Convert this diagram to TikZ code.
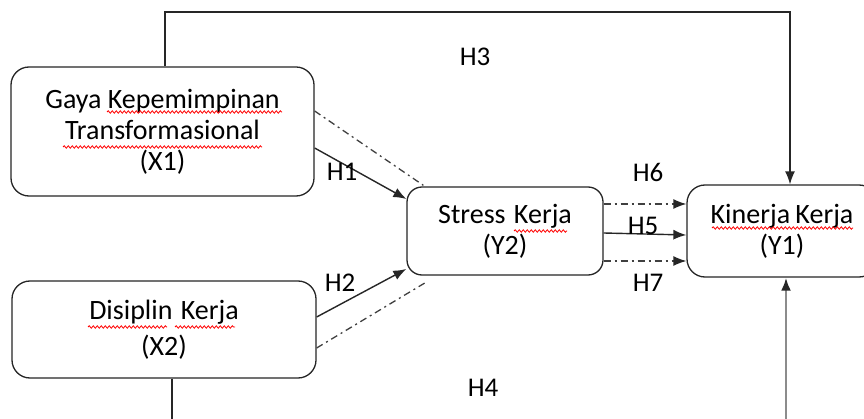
\documentclass[tikz,border=0pt]{standalone}
\usepackage{fontspec}
\setmainfont{Carlito}
\usetikzlibrary{arrows.meta,calc,decorations.pathmorphing}
\tikzset{
  var/.style={draw=black!85,line width=1.3pt,rounded corners=18pt,align=center,
    font=\fontsize{28}{31}\selectfont,text=black,inner sep=0pt},
  lbl/.style={font=\fontsize{27}{31}\selectfont,text=black,inner sep=0pt},
  arr/.style={line width=1.4pt,draw=black!85,-{Latex[length=13pt,width=10pt]}},
  dd/.style={line width=1.3pt,draw=black!75,dash pattern=on 7pt off 4pt on 2pt off 4pt},
  wave/.style={draw=red,line width=0.8pt,decorate,decoration={snake,amplitude=1.2pt,segment length=4pt}},
}
\begin{document}
\begin{tikzpicture}[x=1pt,y=-1pt]
\clip (0,0) rectangle (864,419);
\fill[white] (0,0) rectangle (864,419);
\node[var,minimum width=303pt,minimum height=129pt] (X1) at (162.5,131.5)
  {Gaya Kepemimpinan\\ Transformasional\\ (X1)};
\node[var,minimum width=304pt,minimum height=97pt] (X2) at (164,329.5)
  {Disiplin\kern2pt\ Kerja\\[5pt] (X2)};
\node[var,rounded corners=15pt,minimum width=196pt,minimum height=88pt] (Y2) at (505,231)
  {Stress\kern2pt\ Kerja\\ (Y2)};
\node[var,minimum width=190pt,minimum height=92pt] (Y1) at (782,231)
  {Kinerja\kern-1pt\ Kerja\\ (Y1)};
% spell-check waves
\draw[wave] (107,112) -- (282,112);
\draw[wave] (63,147) -- (262,147);
\draw[wave] (88,327) -- (167,327);
\draw[wave] (175,327) -- (235,327);
\draw[wave] (514,231) -- (567,231);
\draw[wave] (712,228) -- (853,228);
\coordinate (t1) at (165,12);
\coordinate (t2) at (790,12);
\coordinate (b1) at (172,419);
\coordinate (b2) at (786,419);
% H3
\draw[arr] (X1.north -| t1) -- (t1) -- (t2) -- (Y1.north -| t2);
% H4
\draw[line width=1.4pt,draw=black!85] (X2.south -| b1) -- (b1);
\draw[line width=2.6pt,draw=black!45,-{Latex[length=13pt,width=10pt,color=black!85]}] (b2) -- (Y1.south -| b2);
% H1, H2
\draw[arr] ([yshift=-16.5pt]X1.east) -- ([yshift=32pt]Y2.west);
\draw[dd] ([yshift=20.5pt]X1.east) -- ([xshift=17pt,yshift=1pt]Y2.north west);
\draw[arr] ([yshift=12.5pt]X2.east) -- ([yshift=-38pt]Y2.west);
\draw[dd] ([yshift=-18.5pt]X2.east) -- ([xshift=19pt,yshift=-7pt]Y2.south west);
% H5, H6, H7
\draw[dd,-{Latex[length=13pt,width=10pt,color=black!85]}] ([yshift=27pt]Y2.east) -- ([yshift=27pt]Y1.west);
\draw[arr] ([yshift=-2pt]Y2.east) -- ([yshift=-4pt]Y1.west);
\draw[dd,-{Latex[length=13pt,width=10pt,color=black!85]}] ([yshift=-30pt]Y2.east) -- ([yshift=-30pt]Y1.west);
% labels
\node[lbl] (h1) at (342,172) {H1};
\node[lbl] (h2) at (340,283) {H2};
\node[lbl] (h3) at (475,57) {H3};
\node[lbl] (h4) at (483,388) {H4};
\node[lbl] (h5) at (643,226) {H5};
\node[lbl] (h6) at (648,172) {H6};
\node[lbl] (h7) at (648,283) {H7};
\end{tikzpicture}
\end{document}
